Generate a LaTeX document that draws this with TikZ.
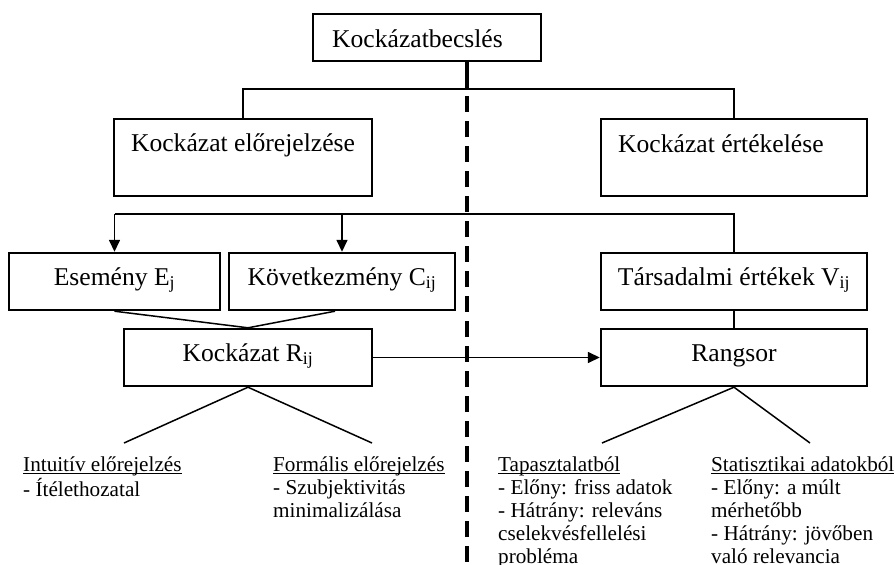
\documentclass[tikz,border=0pt]{standalone}
\usepackage{fontspec}
\setmainfont{Liberation Serif}
\usetikzlibrary{arrows.meta}
\newcommand{\ulx}[1]{\setbox0\hbox{#1}\rlap{\rule[-2.6pt]{\wd0}{1.1pt}}\box0}
\begin{document}
\begin{tikzpicture}[x=1pt,y=-1pt,
  box/.style={draw,line width=2.4pt,inner sep=0pt},
  bfont/.style={font=\fontsize{25.6}{30}\selectfont},
  bt/.style={bfont,text height=17pt,text depth=10pt},
  btxt/.style={bfont,inner sep=0pt},
  conn/.style={line width=1.5pt},
  arr/.style={conn,-{Triangle[length=12pt,width=11pt]}},
  divider/.style={line width=3.2pt},
  small/.style={font=\fontsize{21.2}{23}\selectfont,anchor=base west,inner sep=0pt}]
\fill[white] (0,0) rectangle (895,565);
\useasboundingbox (0,0) rectangle (895,565);

% boxes
\node[box,minimum width=228pt,minimum height=47pt] (top) at (427,37.5) {};
\node[btxt,anchor=base west] (toptxt) at (332,47) {Kockázatbecslés};
\node[box,minimum width=258pt,minimum height=77pt] (prev) at (243,157.5) {};
\node[btxt,anchor=base] (prevtxt) at (243,151) {Kockázat előrejelzése};
\node[box,minimum width=266pt,minimum height=77pt] (eval) at (734,157.5) {};
\node[btxt,anchor=base west] (evaltxt) at (618,152) {Kockázat értékelése};

\node[box,bt,minimum width=211pt,minimum height=57pt] (esem) at (114.5,281.5) {Esemény E\textsubscript{j}};
\node[box,bt,minimum width=226pt,minimum height=57pt] (kov) at (342,281.5) {Következmény C\textsubscript{ij}};
\node[box,bt,minimum width=266pt,minimum height=57pt] (tars) at (734,281.5) {Társadalmi értékek V\textsubscript{ij}};
\node[box,bt,minimum width=248pt,minimum height=57pt] (rij) at (248,357.5) {Kockázat R\textsubscript{ij}};
\node[box,bt,minimum width=266pt,minimum height=57pt] (rang) at (734,357.5) {Rangsor};

% coordinates
\coordinate (divtop) at (467,89);
\coordinate (dashstart) at (467,96);
\coordinate (divbot) at (467,570);
\coordinate (h2) at (467,214);
\coordinate (l1) at (124,443);
\coordinate (l2) at (372,443);
\coordinate (r1) at (602,443);
\coordinate (r2) at (810,443);

% divider
\draw[divider] (top.south -| divtop) -- (divtop);
\draw[divider,dash pattern=on 16pt off 9pt] (dashstart) -- (divbot);

% connectors
\draw[conn] (prev.north) |- (divtop) -| (eval.north);
\draw[conn] (esem.north |- h2) -- (tars.north |- h2) -- (tars.north);
\draw[arr] (esem.north |- h2) -- (esem.north);
\draw[arr] (kov.north |- h2) -- (kov.north);
\draw[conn] (esem.south) -- (rij.north);
\draw[conn] ([xshift=-7pt]kov.south) -- (rij.north);
\draw[conn] (tars.south) -- (rang.north);
\draw[arr] (rij.east) -- (rang.west);
\draw[conn] (l1) -- (rij.south) -- (l2);
\draw[conn] (r1) -- (rang.south) -- (r2);

% bottom texts
\node[small] (t1) at (23,471) {\begin{tabular}[t]{@{}l@{}}\ulx{Intuitív előrejelzés}\\- Ítélethozatal\end{tabular}};
\node[small] (t2) at (273,471) {\begin{tabular}[t]{@{}l@{}}\ulx{Formális előrejelzés}\\- Szubjektivitás\\minimalizálása\end{tabular}};
\node[small] (t3) at (498,471) {\begin{tabular}[t]{@{}l@{}}\ulx{Tapasztalatból}\\- Előny: friss adatok\\- Hátrány: releváns\\cselekvésfellelési\\probléma\end{tabular}};
\node[small] (t4) at (711,471) {\begin{tabular}[t]{@{}l@{}}\ulx{Statisztikai adatokból}\\- Előny: a múlt\\mérhetőbb\\- Hátrány: jövőben\\való relevancia\end{tabular}};
\end{tikzpicture}
\end{document}
